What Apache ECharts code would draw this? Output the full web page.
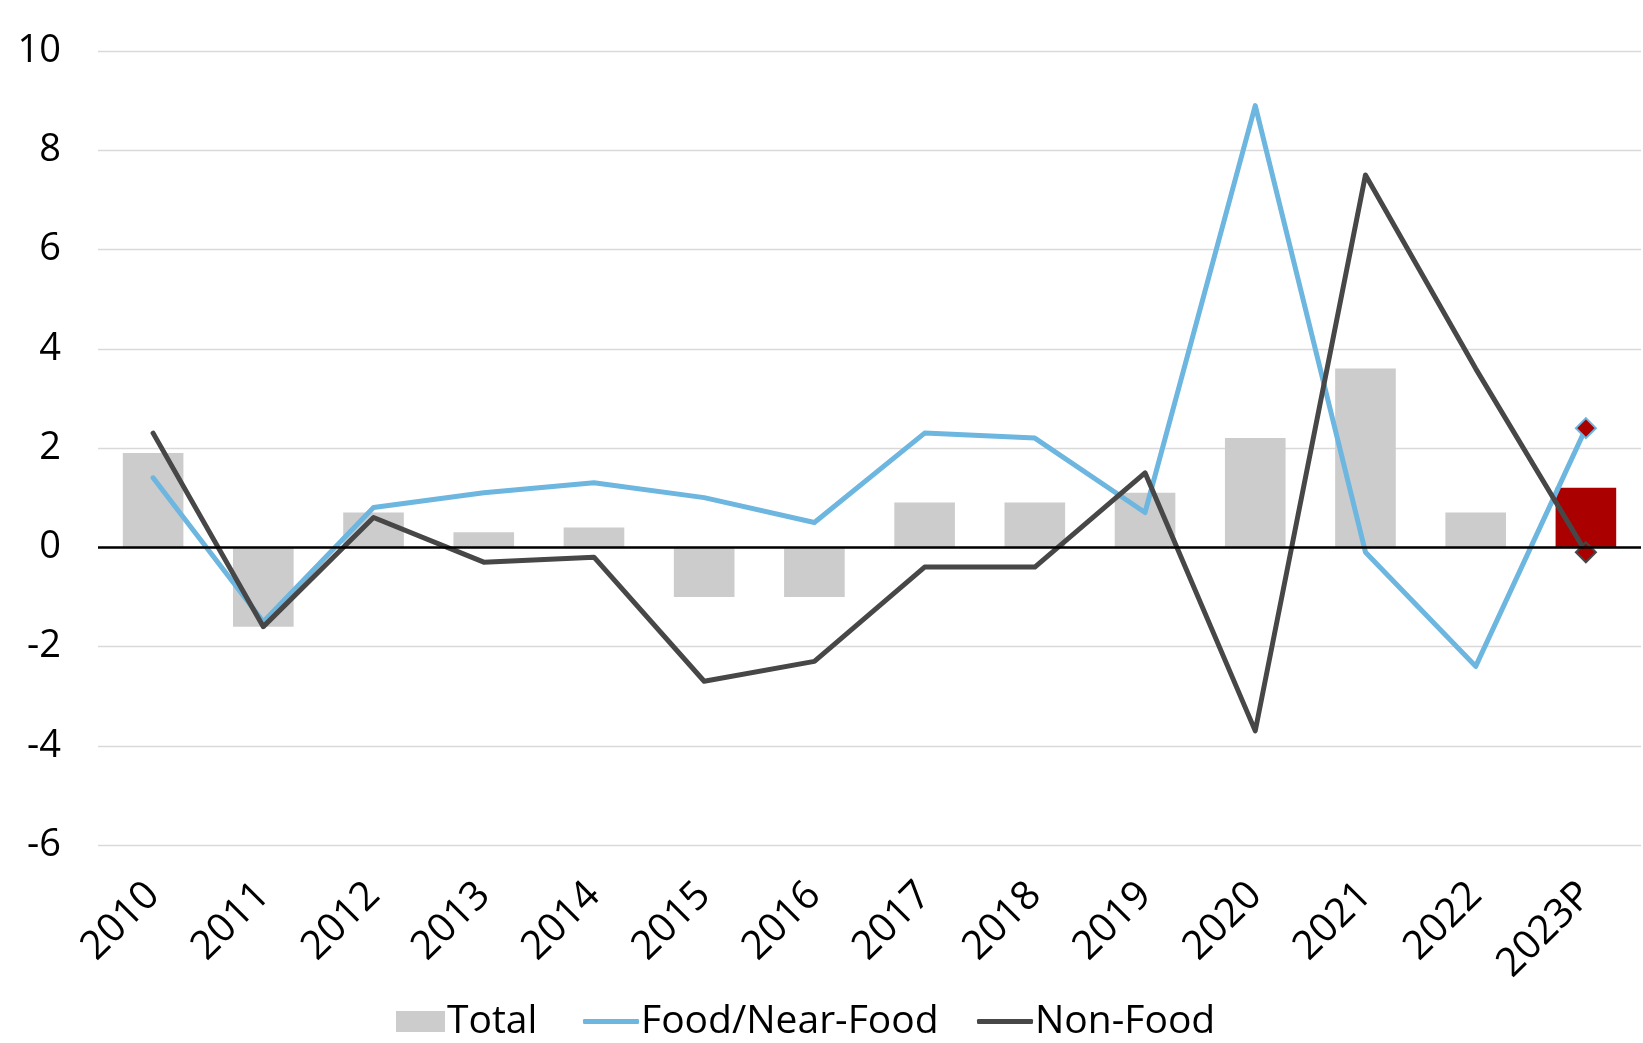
<!DOCTYPE html>
<html>
<head>
<meta charset="utf-8">
<script src="https://cdn.jsdelivr.net/npm/echarts@6/dist/echarts.min.js"></script>
<style>
  html, body { margin: 0; padding: 0; background: #fff; }
  #chart { width: 1643px; height: 1043px; }
</style>
</head>
<body>
<div id="chart"></div>
<script>
// Annual growth (%) by segment
const years = ['2010', '2011', '2012', '2013', '2014', '2015', '2016', '2017', '2018', '2019', '2020', '2021', '2022', '2023P'];
const total = [1.9, -1.6, 0.7, 0.3, 0.4, -1.0, -1.0, 0.9, 0.9, 1.1, 2.2, 3.6, 0.7, 1.2];
const foodNearFood = [1.4, -1.5, 0.8, 1.1, 1.3, 1.0, 0.5, 2.3, 2.2, 0.7, 8.9, -0.1, -2.4, 2.4];
const nonFood = [2.3, -1.6, 0.6, -0.3, -0.2, -2.7, -2.3, -0.4, -0.4, 1.5, -3.7, 7.5, 3.6, -0.1];
const yTicks = { min: -6, max: 10, step: 2 };

const projected = '2023P';
const GREY = '#cccccc';
const BLUE = '#6cb6e0';
const DARK = '#474747';
const RED = '#aa0000';
const FONT = "'Open Sans', 'Noto Sans', sans-serif";

const barData = total.map((v, i) =>
  years[i] === projected ? { value: v, itemStyle: { color: RED } } : v);

function lineData(values, edge) {
  return values.map((v, i) => years[i] === projected
    ? { value: v, symbol: 'diamond', symbolSize: 20,
        itemStyle: { color: RED, borderColor: edge, borderWidth: 2 } }
    : v);
}

const chart = echarts.init(document.getElementById('chart'), null, { renderer: 'canvas' });

function legendItem(name, left, icon, w, h) {
  return {
    data: [{ name: name, icon: icon }],
    left: left, top: 1002,
    itemWidth: w, itemHeight: h,
    textStyle: { fontFamily: FONT, fontSize: 39, color: '#000', padding: [0, 0, 0, -3] },
    selectedMode: false,
    padding: 0
  };
}

chart.setOption({
  animation: false,
  backgroundColor: '#fff',
  grid: { left: 98, right: 2, top: 51, bottom: 198, containLabel: false },
  legend: [
    legendItem('Total', 396, 'rect', 49, 21),
    legendItem('Food/Near-Food', 583, 'roundRect', 56, 5),
    legendItem('Non-Food', 977, 'roundRect', 56, 5)
  ],
  xAxis: {
    type: 'category',
    data: years,
    axisLine: { show: false },
    axisTick: { show: false },
    axisLabel: {
      rotate: 45, margin: 44, interval: 0,
      fontFamily: FONT, fontSize: 40, color: '#000'
    }
  },
  yAxis: {
    type: 'value',
    min: yTicks.min, max: yTicks.max, interval: yTicks.step,
    axisLine: { show: false },
    axisTick: { show: false },
    splitLine: { lineStyle: { color: '#d9d9d9', width: 1.3 } },
    axisLabel: { fontFamily: FONT, fontSize: 38, color: '#000', margin: 37 }
  },
  series: [
    {
      name: 'Total',
      type: 'bar',
      data: barData,
      barWidth: '55%',
      itemStyle: { color: GREY },
      markLine: {
        silent: true,
        symbol: 'none',
        label: { show: false },
        lineStyle: { color: '#000', width: 2.5, type: 'solid' },
        data: [{ yAxis: 0 }]
      }
    },
    {
      name: 'Food/Near-Food',
      type: 'line',
      data: lineData(foodNearFood, BLUE),
      symbol: 'none',
      showSymbol: true,
      lineStyle: { color: BLUE, width: 5, join: 'round', cap: 'round' },
      itemStyle: { color: BLUE },
      z: 3
    },
    {
      name: 'Non-Food',
      type: 'line',
      data: lineData(nonFood, DARK),
      symbol: 'none',
      showSymbol: true,
      lineStyle: { color: DARK, width: 5, join: 'round', cap: 'round' },
      itemStyle: { color: DARK },
      z: 4
    }
  ]
});
</script>
</body>
</html>
